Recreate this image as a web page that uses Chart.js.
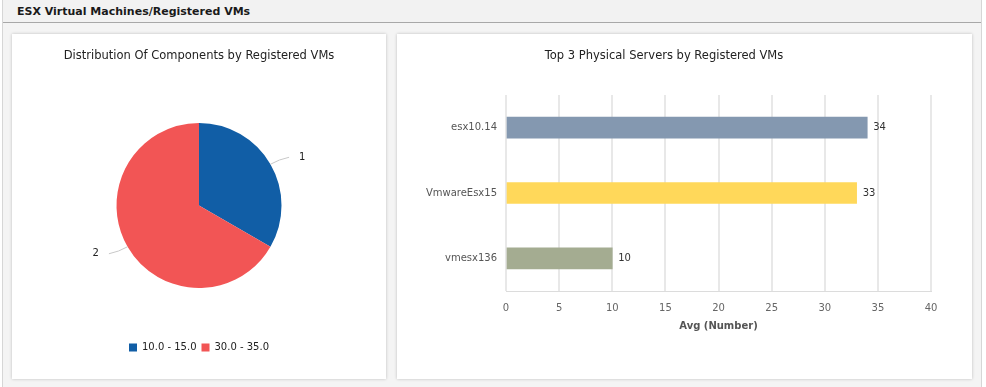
<!DOCTYPE html>
<html>
<head>
<meta charset="utf-8">
<script src="https://cdn.jsdelivr.net/npm/chart.js@4.4.1/dist/chart.umd.min.js"></script>
<style>
  html, body { margin: 0; padding: 0; background: #fff; }
  body { width: 986px; height: 387px; position: relative; overflow: hidden; font-family: "DejaVu Sans", sans-serif; }
  #frame {
    position: absolute; left: 2px; top: 0; width: 978px; height: 387px;
    border-left: 1px solid #d6d6d6; border-right: 1px solid #d6d6d6;
    background: #f4f4f4;
  }
  #header {
    position: absolute; left: 0; top: 0; width: 978px; height: 23px;
    background: #f2f2f2; border-bottom: 1px solid #a8a8a8;
    font-weight: bold; font-size: 11px; color: #1a1a1a; line-height: 24px;
    box-sizing: border-box; padding-left: 14px;
  }
  .panel {
    position: absolute; top: 34px; height: 345px; background: #fff;
    box-shadow: 0 0 3px rgba(0,0,0,0.22);
  }
  #pie-panel { left: 12px; width: 374px; }
  #bar-panel { left: 397px; width: 575px; }
  .panel canvas { display: block; }
</style>
</head>
<body>
<div id="frame">
  <div id="header">ESX Virtual Machines/Registered VMs</div>
</div>
<div class="panel" id="pie-panel"><canvas id="pie"></canvas></div>
<div class="panel" id="bar-panel"><canvas id="bar"></canvas></div>

<script>
// Data
const pieLabels = ['10.0 - 15.0', '30.0 - 35.0'];
const pieValues = [1, 2];
const pieColors = ['#115ea6', '#f25555'];

const servers = ['esx10.14', 'VmwareEsx15', 'vmesx136'];
const serverValues = [34, 33, 10];
const serverColors = ['#8498b0', '#ffd85a', '#a4ac91'];

const FONT = '"DejaVu Sans", sans-serif';
Chart.defaults.font.family = FONT;
Chart.defaults.color = '#555';
Chart.defaults.animation = false;

// Slice numbers with a small leader line
const pieCallouts = {
	id: 'pieCallouts',
	afterDatasetsDraw(chart) {
		const ctx = chart.ctx;
		const arcs = chart.getDatasetMeta(0).data;
		ctx.save();
		ctx.font = '10px ' + FONT;
		ctx.fillStyle = '#222';
		ctx.textBaseline = 'middle';
		arcs.forEach((arc, i) => {
			const mid = (arc.startAngle + arc.endAngle) / 2;
			const r = arc.outerRadius;
			const cos = Math.cos(mid), sin = Math.sin(mid);
			const side = cos >= 0 ? 1 : -1;
			const x0 = arc.x + cos * r, y0 = arc.y + sin * r;
			const cx = arc.x + cos * (r + 10), cy = arc.y + sin * (r + 10);
			const x1 = cx + side * 10, y1 = cy - side * 2;
			ctx.strokeStyle = '#c8c8c8';
			ctx.lineWidth = 1;
			ctx.beginPath();
			ctx.moveTo(x0, y0);
			ctx.quadraticCurveTo(cx, cy, x1, y1);
			ctx.stroke();
			ctx.textAlign = side > 0 ? 'left' : 'right';
			ctx.fillText(String(i + 1), x1 + side * 10, y1);
		});
		ctx.restore();
	}
};

// Value at the end of each bar
const barValues = {
	id: 'barValues',
	afterDatasetsDraw(chart) {
		const ctx = chart.ctx;
		const meta = chart.getDatasetMeta(0);
		ctx.save();
		ctx.font = '10px ' + FONT;
		ctx.fillStyle = '#333';
		ctx.textAlign = 'left';
		ctx.textBaseline = 'middle';
		meta.data.forEach((bar, i) => {
			ctx.fillText(String(serverValues[i]), bar.x + 6, bar.y);
		});
		ctx.restore();
	}
};

window.onload = function() {
	new Chart(document.getElementById('pie'), {
		type: 'pie',
		data: {
			labels: pieLabels,
			datasets: [{
				data: pieValues,
				backgroundColor: pieColors,
				borderWidth: 0
			}]
		},
		options: {
			responsive: true,
			maintainAspectRatio: false,
			layout: { padding: { top: 0, bottom: 16.5, left: 0, right: 0 } },
			plugins: {
				title: {
					display: true,
					text: 'Distribution Of Components by Registered VMs',
					color: '#222',
					font: { size: 11.5, weight: 'normal' },
					padding: { top: 15, bottom: 60.2 }
				},
				legend: {
					position: 'bottom',
					title: { display: true, text: '', font: { size: 11 }, padding: { top: 0, bottom: 36.3 } },
					labels: {
						boxWidth: 8, boxHeight: 8, padding: 5,
						color: '#222',
						font: { size: 10 }
					}
				},
				tooltip: { enabled: false }
			}
		},
		plugins: [pieCallouts]
	});

	new Chart(document.getElementById('bar'), {
		type: 'bar',
		data: {
			labels: servers,
			datasets: [{
				data: serverValues,
				backgroundColor: serverColors,
				barThickness: 21
			}]
		},
		options: {
			indexAxis: 'y',
			responsive: true,
			maintainAspectRatio: false,
			layout: { padding: { top: 0, bottom: 42.4, left: 0, right: 41 } },
			scales: {
				x: {
					min: 0, max: 40,
					ticks: { stepSize: 5, padding: 11, color: '#666', font: { size: 10 } },
					grid: { color: '#e8e8e8', lineWidth: 2, drawTicks: false },
					border: { color: '#dcdcdc', width: 1 },
					title: {
						display: true, text: 'Avg (Number)', color: '#555',
						font: { size: 10, weight: 'bold' }, padding: { top: 4, bottom: 4 }
					},
					afterFit: s => { s.height = 45.6; }
				},
				y: {
					ticks: { padding: 9, color: '#555', font: { size: 10 } },
					grid: { display: false, drawTicks: false },
					border: { display: false },
					afterFit: s => { s.width = 109; }
				}
			},
			plugins: {
				title: {
					display: true,
					text: 'Top 3 Physical Servers by Registered VMs',
					color: '#222',
					font: { size: 11.5, weight: 'normal' },
					padding: { top: 15, bottom: 32.2 }
				},
				legend: { display: false },
				tooltip: { enabled: false }
			}
		},
		plugins: [barValues]
	});
};
</script>
</body>
</html>
